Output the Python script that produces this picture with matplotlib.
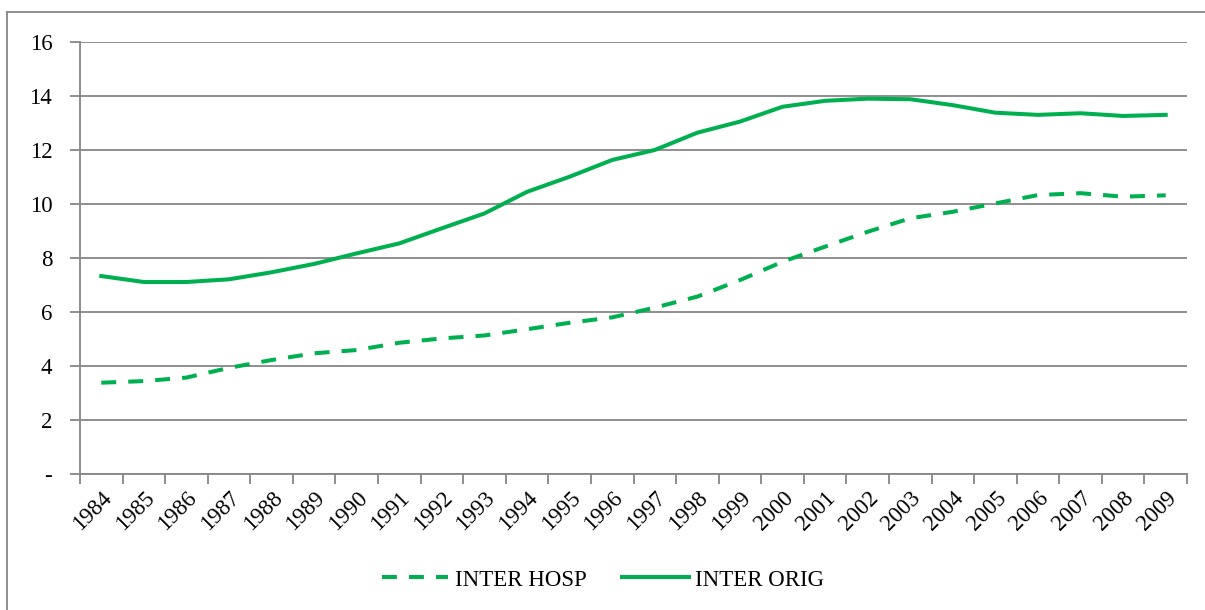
import numpy as np
import matplotlib
matplotlib.use("Agg")
import matplotlib.pyplot as plt
from matplotlib.lines import Line2D

years = list(range(1984, 2010))
inter_hosp = [3.37, 3.43, 3.56, 3.92, 4.21, 4.46, 4.58, 4.85, 5.01, 5.12, 5.35, 5.59, 5.79,
              6.15, 6.56, 7.17, 7.85, 8.41, 8.96, 9.46, 9.70, 10.01, 10.32, 10.39, 10.26, 10.31]
inter_orig = [7.32, 7.10, 7.10, 7.20, 7.46, 7.77, 8.16, 8.53, 9.09, 9.64, 10.44, 11.00, 11.62,
              11.99, 12.63, 13.04, 13.59, 13.81, 13.89, 13.87, 13.65, 13.37, 13.29, 13.35, 13.25, 13.29]
y_ticks = [0, 2, 4, 6, 8, 10, 12, 14, 16]
y_labels = ['-', '2', '4', '6', '8', '10', '12', '14', '16']

green = '#00B050'
grey = '#868686'

plt.rcParams['font.family'] = ['Liberation Serif', 'DejaVu Serif']

fig = plt.figure(figsize=(12.05, 6.10), dpi=100)
W, H = 1205, 610

# outer chart frame (only top and left edges fall inside the canvas)
fig.add_artist(Line2D([7 / W, 7 / W], [0, 1 - 12 / H], color=grey, lw=1.3))
fig.add_artist(Line2D([7 / W, 1], [1 - 12 / H, 1 - 12 / H], color=grey, lw=1.3))

ax = fig.add_axes([80 / W, 1 - 473.7 / H, (1187 - 80) / W, (473.7 - 41.7) / H])
x = np.arange(len(years))

ax.plot(x, inter_hosp, color=green, lw=2.9, dashes=(3.7, 3.0), label='INTER HOSP')
ax.plot(x, inter_orig, color=green, lw=2.9, label='INTER ORIG')

ax.set_xlim(-0.5, len(years) - 0.5)
ax.set_ylim(0, 16)
ax.set_yticks(y_ticks)
ax.set_yticklabels(y_labels, fontsize=16.5)
ax.yaxis.grid(True, color=grey, lw=1.3)
ax.set_axisbelow(True)

# tick marks between categories, labels at category centres
ax.set_xticks(np.arange(-0.5, len(years), 1.0))
ax.set_xticklabels([])
ax.set_xticks(x, minor=True)
ax.set_xticklabels([str(y) for y in years], minor=True, rotation=45, ha='right',
                   rotation_mode='anchor', fontsize=16.5)
ax.tick_params(axis='x', which='minor', length=0, pad=10)
ax.tick_params(axis='x', which='major', length=7, width=1.3, color=grey, direction='out')
ax.tick_params(axis='y', length=7, width=1.3, color=grey, pad=13)

for s in ['top', 'right']:
    ax.spines[s].set_visible(False)
for s in ['left', 'bottom']:
    ax.spines[s].set_color(grey)
    ax.spines[s].set_linewidth(1.3)

fig.legend(loc='center', bbox_to_anchor=(603 / W, 1 - 580 / H), ncol=2, frameon=False,
           fontsize=16.5, handlelength=2.9, columnspacing=1.55, handletextpad=0.3)

fig.savefig('out.png', dpi=100)
